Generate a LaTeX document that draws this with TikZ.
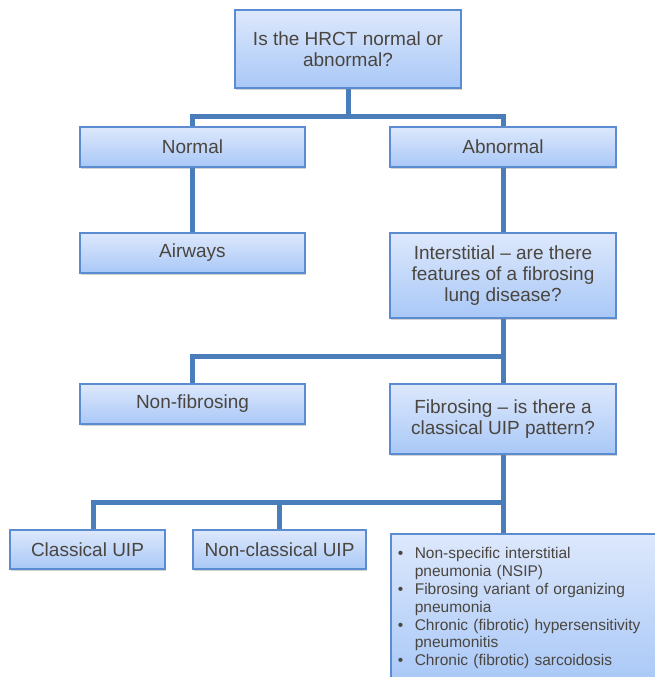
\documentclass[tikz,border=0pt]{standalone}
\usepackage{fontspec}
\setmainfont{Liberation Sans}
\usetikzlibrary{shadows,backgrounds}
\definecolor{boxtop}{HTML}{DDE8FC}
\definecolor{boxbot}{HTML}{A9C8F7}
\definecolor{boxline}{HTML}{5B8CD2}
\definecolor{connline}{HTML}{4A7EBB}
\definecolor{txt}{HTML}{4A463F}
\newcommand\bitem[1]{\hangindent=17pt\hangafter=1\noindent\makebox[17pt][l]{\textbullet}#1\par}
\newcommand\brk{\hfil\break}
\tikzset{
  box/.style={draw=boxline, line width=1.6pt, top color=boxtop, bottom color=boxbot,
    text=txt, align=center, inner sep=2pt,
    font=\fontsize{19}{21}\selectfont,
    drop shadow={shadow xshift=1pt, shadow yshift=-1.5pt, opacity=0.35, fill=gray}},
  conn/.style={draw=connline, line width=5pt}
}
\begin{document}
\begin{tikzpicture}[x=1pt,y=-1pt]
\useasboundingbox (0,0) rectangle (655,677);
\node[box, minimum width=226, minimum height=78] (top) at (348,49) {Is the HRCT normal or\\abnormal?};
\node[box, minimum width=225, minimum height=40] (normal) at (192.5,147) {Normal};
\node[box, minimum width=226, minimum height=40] (abnormal) at (503,147) {Abnormal};
\node[box, minimum width=225, minimum height=40] (airways) at (192.5,253) {Airways};
\node[box, minimum width=226, minimum height=85] (inter) at (503,275.5) {Interstitial -- are there\\features of a fibrosing\\lung disease?};
\node[box, minimum width=225, minimum height=40] (nonfib) at (192.5,404) {Non-fibrosing};
\node[box, minimum width=226, minimum height=70] (fib) at (503,419) {Fibrosing -- is there a\\classical UIP pattern?};
\node[box, minimum width=155, minimum height=39] (classical) at (87.5,549.5) {Classical UIP};
\node[box, minimum width=173, minimum height=39] (nonclass) at (279.5,549.5) {Non-classical UIP};
\node[box, anchor=north west, minimum width=272, minimum height=149, text width=258, inner xsep=7pt, align=left,
  font=\fontsize{15.5}{17.8}\selectfont] (list) at (390,533) {%
  \bitem{Non-specific interstitial\brk pneumonia (NSIP)}
  \bitem{Fibrosing variant of organizing\brk pneumonia}
  \bitem{Chronic (fibrotic) hypersensitivity\brk pneumonitis}
  \bitem{Chronic (fibrotic) sarcoidosis}};
\coordinate (j1) at (348,116);
\coordinate (j2) at (503,356);
\coordinate (j3) at (503,502);
\begin{scope}[on background layer]
\draw[conn] (top) -- (j1);
\draw[conn] (j1) -| (normal);
\draw[conn] (j1) -| (abnormal);
\draw[conn] (normal) -- (airways);
\draw[conn] (abnormal) -- (inter);
\draw[conn] (inter) -- (fib);
\draw[conn] (j2) -| (nonfib);
\draw[conn] (fib) -- (j3);
\draw[conn] (j3) -| ([xshift=5.5pt]classical.north);
\draw[conn] (j3) -| (nonclass);
\draw[conn] (j3) -- (j3 |- list.north);
\end{scope}
\end{tikzpicture}
\end{document}
